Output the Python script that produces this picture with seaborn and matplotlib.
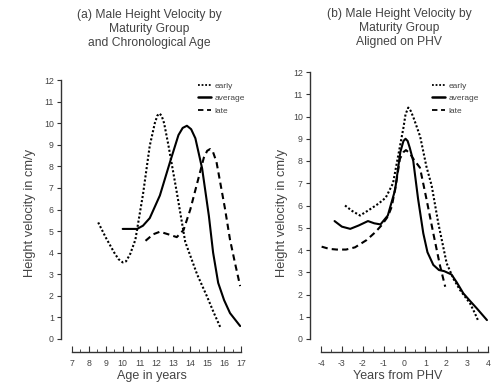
import matplotlib
matplotlib.use("Agg")
import matplotlib.pyplot as plt
from matplotlib.lines import Line2D
from matplotlib.ticker import MultipleLocator
import seaborn as sns
import pandas as pd

# ---- data: (a) chronological age ----
early_age = [8.55, 9.0, 9.5, 9.75, 10.0, 10.2, 10.45, 10.75, 11.2, 11.6, 11.9, 12.05, 12.17, 12.3, 12.45, 12.7, 13.2, 13.7, 14.4, 15.0, 15.4, 15.8]
early_age_v = [5.4, 4.7, 4.0, 3.7, 3.55, 3.6, 3.95, 4.6, 6.7, 8.95, 10.0, 10.35, 10.45, 10.35, 10.0, 9.0, 6.8, 4.5, 3.0, 1.95, 1.2, 0.5]
avg_age = [10.0, 10.85, 11.2, 11.6, 12.2, 12.8, 13.3, 13.55, 13.8, 14.05, 14.3, 14.7, 15.1, 15.35, 15.65, 16.0, 16.35, 16.95]
avg_age_v = [5.1, 5.1, 5.25, 5.6, 6.65, 8.2, 9.45, 9.78, 9.88, 9.72, 9.3, 7.9, 5.7, 4.0, 2.6, 1.8, 1.2, 0.6]
late_age = [11.35, 11.8, 12.2, 12.7, 13.2, 13.6, 14.0, 14.4, 14.8, 15.0, 15.17, 15.35, 15.55, 16.05, 16.35, 16.65, 16.95]
late_age_v = [4.55, 4.85, 4.97, 4.85, 4.72, 5.05, 6.0, 7.2, 8.4, 8.72, 8.8, 8.65, 8.2, 6.05, 4.6, 3.5, 2.45]

# ---- data: (b) years from PHV ----
early_phv = [-2.85, -2.5, -2.13, -1.7, -1.25, -0.9, -0.55, -0.35, -0.05, 0.05, 0.18, 0.3, 0.45, 0.75, 1.05, 1.3, 1.62, 2.02, 2.35, 2.66, 3.14, 3.35, 3.55]
early_phv_v = [6.0, 5.75, 5.55, 5.8, 6.08, 6.35, 7.0, 8.0, 9.5, 10.1, 10.4, 10.25, 9.9, 9.1, 7.75, 6.9, 5.2, 3.4, 2.7, 2.2, 1.6, 1.2, 0.78]
avg_phv = [-3.35, -3.0, -2.6, -2.2, -1.75, -1.45, -1.15, -0.8, -0.45, -0.2, -0.05, 0.05, 0.15, 0.25, 0.42, 0.65, 0.9, 1.1, 1.38, 1.65, 1.9, 2.25, 2.5, 2.82, 3.15, 3.46, 3.95]
avg_phv_v = [5.3, 5.05, 4.95, 5.1, 5.3, 5.2, 5.15, 5.55, 6.7, 8.4, 8.9, 9.0, 8.9, 8.6, 8.0, 6.3, 4.75, 3.9, 3.33, 3.1, 3.05, 2.9, 2.55, 2.05, 1.7, 1.38, 0.85]
late_phv = [-3.97, -3.6, -3.25, -2.8, -2.37, -1.81, -1.4, -1.09, -0.8, -0.61, -0.4, -0.22, -0.05, 0.07, 0.25, 0.42, 0.74, 1.05, 1.38, 1.7, 1.95]
late_phv_v = [4.15, 4.05, 4.02, 4.02, 4.12, 4.45, 4.8, 5.12, 5.5, 5.95, 7.0, 8.1, 8.4, 8.49, 8.35, 8.1, 7.7, 6.3, 4.75, 3.3, 2.35]

groups = ["early", "average", "late"]
x_ticks_a = list(range(7, 18))
x_ticks_b = list(range(-4, 5))
y_ticks = list(range(0, 13))

titles = ["(a) Male Height Velocity by\nMaturity Group\nand Chronological Age",
          "(b) Male Height Velocity by\nMaturity Group\nAligned on PHV"]
xlabels = ["Age in years", "Years from PHV"]
ylabel = "Height velocity in cm/y"


def frame(xs, vs):
    rows = []
    for g, x, v in zip(groups, xs, vs):
        for a, b in zip(x, v):
            rows.append({"x": a, "v": b, "group": g})
    return pd.DataFrame(rows)


df_a = frame([early_age, avg_age, late_age], [early_age_v, avg_age_v, late_age_v])
df_b = frame([early_phv, avg_phv, late_phv], [early_phv_v, avg_phv_v, late_phv_v])

sns.set_theme(style="ticks")
plt.rcParams["font.family"] = ["Liberation Sans", "DejaVu Sans"]
plt.rcParams["axes.unicode_minus"] = False
plt.rcParams["lines.solid_joinstyle"] = "round"
plt.rcParams["lines.dash_joinstyle"] = "round"
TXT = "#444444"

W, H = 499, 387
fig = plt.figure(figsize=(W / 100, H / 100), dpi=100)


def fx(x):
    return x / W


def fy(y):
    return 1 - y / H


ax_a = fig.add_axes([fx(72), fy(339), (241 - 72) / W, (339 - 80) / H])
ax_b = fig.add_axes([fx(321), fy(339), (488 - 321) / W, (339 - 72) / H])

dashes = {"early": (1, 1), "average": "", "late": (3, 2)}
palette = {g: "black" for g in groups}

for ax, df, xt in [(ax_a, df_a, x_ticks_a), (ax_b, df_b, x_ticks_b)]:
    sns.lineplot(data=df, x="x", y="v", hue="group", style="group", dashes=dashes,
                 palette=palette, hue_order=groups, style_order=groups,
                 linewidth=1.5, sort=False, legend=False, ax=ax)
    ax.set_xlim(xt[0], xt[-1])
    ax.set_ylim(0, 12)
    ax.set_xticks(xt)
    ax.set_yticks(y_ticks)
    ax.xaxis.set_minor_locator(MultipleLocator(0.5))
    ax.set_xlabel("")
    ax.set_ylabel("")
    for s in ["top", "right"]:
        ax.spines[s].set_visible(False)
    ax.spines["left"].set_position(("outward", 8))
    ax.spines["bottom"].set_position(("outward", 9.5))
    ax.spines["left"].set_bounds(0, 12)
    ax.spines["bottom"].set_bounds(xt[0], xt[-1])
    for s in ["left", "bottom"]:
        ax.spines[s].set_linewidth(1.0)
        ax.spines[s].set_color("#333333")
    ax.tick_params(axis="y", direction="out", length=3, width=0.8, labelsize=6.3,
                   colors="#333333", labelcolor=TXT, pad=2)
    ax.tick_params(axis="x", which="major", direction="in", length=4, width=0.8,
                   labelsize=6.3, colors="#333333", labelcolor=TXT, pad=5)
    ax.tick_params(axis="x", which="minor", direction="in", length=2, width=0.6,
                   colors="#333333")
    ax.patch.set_alpha(0)

# titles
fig.text(fx(149), fy(9), titles[0], ha="center", va="top", fontsize=8.7,
         color=TXT, linespacing=1.2)
fig.text(fx(399), fy(8), titles[1], ha="center", va="top", fontsize=8.7,
         color=TXT, linespacing=1.2)

# axis labels
fig.text(fx(152), fy(376), xlabels[0], ha="center", va="center", fontsize=9, color=TXT)
fig.text(fx(398), fy(376), xlabels[1], ha="center", va="center", fontsize=9, color=TXT)
fig.text(fx(30), fy(213), ylabel, ha="center", va="center", rotation=90, fontsize=9.3, color=TXT)
fig.text(fx(282), fy(213), ylabel, ha="center", va="center", rotation=90, fontsize=9.3, color=TXT)

# legends
handles = [Line2D([], [], color="black", lw=1.3, dashes=(1, 1)),
           Line2D([], [], color="black", lw=1.8),
           Line2D([], [], color="black", lw=1.3, dashes=(3, 2))]
for ax, (lx, ly) in [(ax_a, (198, 82)), (ax_b, (432, 82))]:
    leg = ax.legend(handles, groups, loc="upper left",
                    bbox_to_anchor=(fx(lx), fy(ly)), bbox_transform=fig.transFigure,
                    frameon=False, fontsize=6, handlelength=1.6, handletextpad=0.4,
                    labelspacing=0.55, borderaxespad=0, borderpad=0)
    for t in leg.get_texts():
        t.set_color(TXT)

fig.savefig("out.png", dpi=100)
